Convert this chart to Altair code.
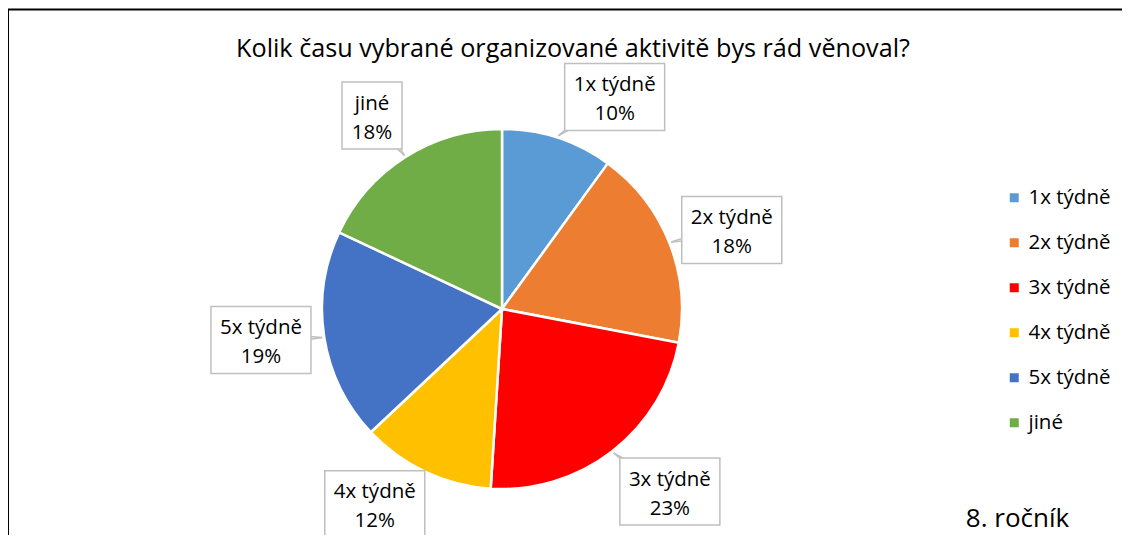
import math
import altair as alt
import pandas as pd

# ---- data ----
categories = ["1x týdně", "2x týdně", "3x týdně", "4x týdně", "5x týdně", "jiné"]
values = [10, 18, 23, 12, 19, 18]
colors = ["#5B9BD5", "#ED7D31", "#FF0000", "#FFC000", "#4472C4", "#70AD47"]
title_text = "Kolik času vybrané organizované aktivitě bys rád věnoval?"
note_text = "8. ročník"

# ---- layout (pixels in the plot area) ----
W, H = 1114, 527
CX, CY, R = 494, 301, 180
label_nudge_deg = [10.0, 2.6, -4.8, 7.9, 1.7, -1.5]
label_dist = [240, 243, 248, 233, 243, 233]
BOX_H = 67
FONT = "Open Sans"
LBL_SIZE = 20.5

total = sum(values)
rows, ptr = [], []
start = 0
for i, (c, v) in enumerate(zip(categories, values)):
    mid = (start + v / 2) / total * 2 * math.pi
    start += v
    ang = mid + math.radians(label_nudge_deg[i])
    bx = CX + label_dist[i] * math.sin(ang)
    by = CY - label_dist[i] * math.cos(ang)
    pct = f"{v}%"
    bw = 10 * max(len(c), len(pct)) + 20
    rows.append(dict(cat=c, value=v, idx=i, label=f"{c}\n{pct}", bx=bx, by=by,
                     x0=bx - bw / 2, x1=bx + bw / 2, y0=by - BOX_H / 2, y1=by + BOX_H / 2))
    tx = CX + (R + 2) * math.sin(mid)
    ty = CY - (R + 2) * math.cos(mid)
    dx, dy = bx - tx, by - ty
    n = math.hypot(dx, dy)
    px, py = -dy / n, dx / n
    for s in (-7, 7):
        ptr.append(dict(tx=tx, ty=ty, ex=bx + px * s, ey=by + py * s))

df = pd.DataFrame(rows)
pdf = pd.DataFrame(ptr)

xs = alt.Scale(domain=[0, W], range=[0, W], nice=False, zero=False)
ys = alt.Scale(domain=[0, H], range=[0, H], nice=False, zero=False)

pie = alt.Chart(df).mark_arc(radius=R, stroke="white", strokeWidth=2.5).encode(
    theta=alt.Theta("value:Q", stack=True),
    order=alt.Order("idx:Q"),
    color=alt.Color(
        "cat:N",
        sort=categories,
        scale=alt.Scale(domain=categories, range=colors),
        legend=alt.Legend(
            orient="none", legendX=996, legendY=179.5, title=None,
            symbolType="square", symbolSize=81, symbolStrokeWidth=0,
            labelFontSize=LBL_SIZE, labelFont=FONT, labelColor="black",
            rowPadding=24.0, labelOffset=4, padding=0,
        ),
    ),
    x=alt.value(CX),
    y=alt.value(CY),
)

pointers = alt.Chart(pdf).mark_rule(color="#bfbfbf", strokeWidth=1.5).encode(
    x=alt.X("tx:Q", scale=xs, axis=None),
    y=alt.Y("ty:Q", scale=ys, axis=None),
    x2="ex:Q",
    y2="ey:Q",
)

boxes = alt.Chart(df).mark_rect(fill="white", stroke="#bfbfbf", strokeWidth=1.5).encode(
    x=alt.X("x0:Q", scale=xs, axis=None),
    x2="x1:Q",
    y=alt.Y("y0:Q", scale=ys, axis=None),
    y2="y1:Q",
)

labels = alt.Chart(df).mark_text(
    font=FONT, fontSize=LBL_SIZE, color="black", lineBreak="\n", lineHeight=29,
    align="center", baseline="alphabetic", dy=-6,
).encode(
    x=alt.X("bx:Q", scale=xs, axis=None),
    y=alt.Y("by:Q", scale=ys, axis=None),
    text="label:N",
)

title = alt.Chart(pd.DataFrame({"t": [title_text]})).mark_text(
    font=FONT, fontSize=25.2, color="black", align="center", baseline="alphabetic"
).encode(x=alt.value(565), y=alt.value(48.5), text="t:N")

note = alt.Chart(pd.DataFrame({"t": [note_text]})).mark_text(
    font=FONT, fontSize=26, color="black", align="center", baseline="alphabetic"
).encode(x=alt.value(1009.5), y=alt.value(519), text="t:N")

one = pd.DataFrame({"a": [0]})
frame_top = alt.Chart(one).mark_rule(color="black", strokeWidth=2).encode(
    x=alt.value(0), x2=alt.value(W), y=alt.value(1.5)
)
frame_left = alt.Chart(one).mark_rule(color="black", strokeWidth=2).encode(
    x=alt.value(0), y=alt.value(1.5), y2=alt.value(H)
)

chart = alt.layer(
    frame_top, frame_left, pie, pointers, boxes, labels, title, note
).properties(
    width=W, height=H, padding=0, autosize=alt.AutoSizeParams(type="none")
).configure(background="white").configure_view(stroke="transparent", strokeWidth=0)

chart.save("out.html", embed_options={"renderer": "svg", "actions": False})
